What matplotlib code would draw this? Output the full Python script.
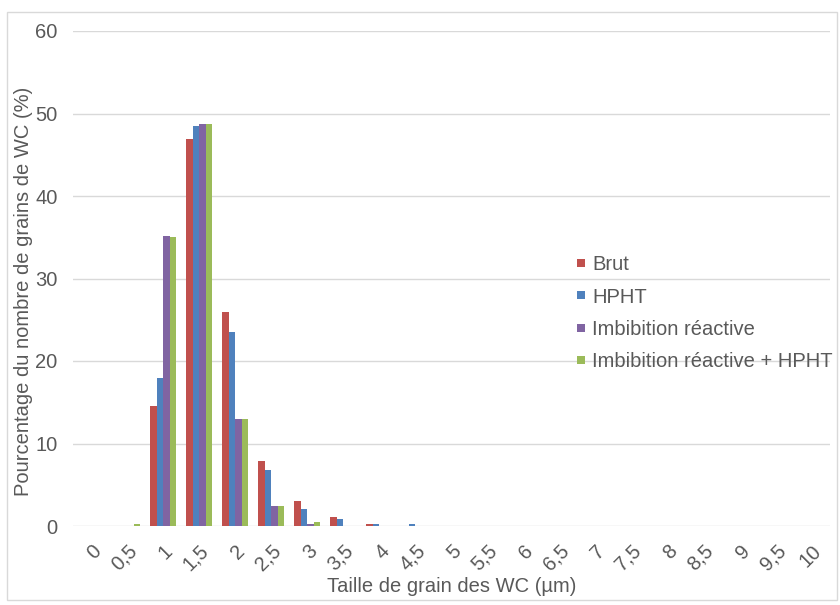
import matplotlib.pyplot as plt
import numpy as np
from matplotlib.patches import Rectangle
from matplotlib.lines import Line2D

plt.rcParams['font.family'] = ['Liberation Sans', 'DejaVu Sans']

categories = ['0', '0,5', '1', '1,5', '2', '2,5', '3', '3,5', '4', '4,5', '5',
              '5,5', '6', '6,5', '7', '7,5', '8', '8,5', '9', '9,5', '10']
brut = [0, 0, 14.5, 46.9, 25.9, 7.85, 3.0, 1.1, 0.3, 0, 0,
        0, 0, 0, 0, 0, 0, 0, 0, 0, 0]
hpht = [0, 0, 18.0, 48.5, 23.5, 6.8, 2.07, 0.85, 0.2, 0.2, 0,
        0, 0, 0, 0, 0, 0, 0, 0, 0, 0]
imbibition = [0, 0, 35.2, 48.7, 13.0, 2.45, 0.3, 0, 0, 0, 0,
              0, 0, 0, 0, 0, 0, 0, 0, 0, 0]
imbibition_hpht = [0, 0.2, 35.0, 48.7, 13.0, 2.45, 0.45, 0, 0, 0, 0,
                   0, 0, 0, 0, 0, 0, 0, 0, 0, 0]

series = [
    ('Brut', brut, '#C0504D'),
    ('HPHT', hpht, '#4F81BD'),
    ('Imbibition réactive', imbibition, '#8064A2'),
    ('Imbibition réactive + HPHT', imbibition_hpht, '#9BBB59'),
]

grey = '#595959'
fs = 14.5
fig = plt.figure(figsize=(8.4, 6.05), dpi=100)
ax = fig.add_axes([73 / 840, 79 / 605, 757 / 840, 495 / 605])

# outer chart border
fig.patches.append(Rectangle((7 / 840, 5 / 605), 830 / 840, 588 / 605,
                             transform=fig.transFigure, fill=False,
                             edgecolor='#D9D9D9', linewidth=1))

x = np.arange(len(categories))
w = 0.18
handles = []
for i, (name, vals, col) in enumerate(series):
    ax.bar(x + (i - 1.5) * w, vals, w, color=col, zorder=3)
    handles.append(Line2D([], [], marker='s', linestyle='', markersize=5.2,
                          markeredgewidth=0, color=col, label=name))

ax.set_xlim(-0.5, len(categories) - 0.5)
ax.set_ylim(0, 60)
ax.set_yticks(range(0, 61, 10))
ax.grid(axis='y', color='#D9D9D9', linewidth=1, zorder=0)
ax.set_xticks(x)
ax.set_xticklabels(categories, rotation=45, ha='right', va='top',
                   rotation_mode='anchor')
ax.tick_params(axis='both', length=0, colors=grey, labelsize=fs)
ax.tick_params(axis='x', pad=11)
ax.tick_params(axis='y', pad=11)
for s in ax.spines.values():
    s.set_visible(False)

ax.set_xlabel('Taille de grain des WC (µm)', color=grey, fontsize=fs, labelpad=2)
ax.set_ylabel('Pourcentage du nombre de grains de WC (%)', color=grey,
              fontsize=fs, labelpad=2)
ax.yaxis.label.set_y(0.473)

leg = ax.legend(handles=handles, loc='center left', bbox_to_anchor=(0.653, 0.43),
                frameon=False, fontsize=fs, handlelength=0.35,
                handletextpad=0.4, labelspacing=0.66, borderpad=0)
for t in leg.get_texts():
    t.set_color(grey)

fig.savefig('out.png', dpi=100)
